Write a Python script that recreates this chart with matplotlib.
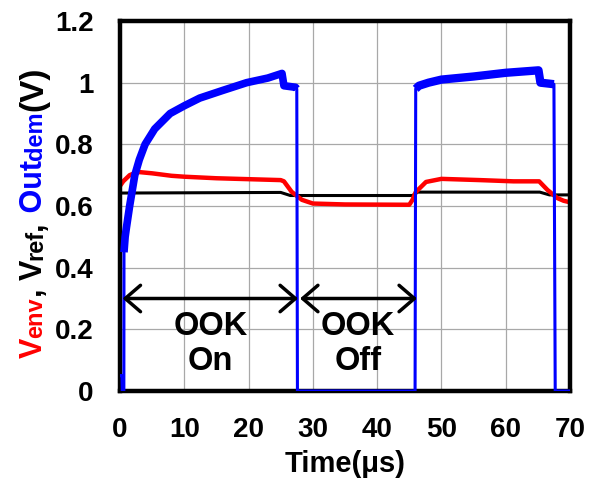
import matplotlib
matplotlib.use("Agg")
import matplotlib.pyplot as plt
from matplotlib.transforms import IdentityTransform

plt.rcParams["font.family"] = ["Liberation Sans", "DejaVu Sans"]
plt.rcParams["font.weight"] = "bold"

# Outdem trace (blue)
out_t = [0, 0.3, 0.35, 0.6, 0.62, 0.8, 1.0, 1.5, 2.3, 3.0, 3.9, 5.4, 7.8, 10, 12.4, 16,
         19.7, 23, 25.2, 25.5, 27.3, 27.5, 27.6, 45.9, 46.0, 46.5, 48, 50, 55, 60, 65.1,
         65.4, 67.5, 67.7, 70]
out_v = [0.05, 0.05, 0, 0, 0.45, 0.50, 0.53, 0.60, 0.70, 0.75, 0.80, 0.85, 0.90, 0.925,
         0.95, 0.975, 1.0, 1.015, 1.03, 0.99, 0.985, 0.98, 0, 0, 0.98, 0.99, 1.0, 1.01,
         1.02, 1.032, 1.04, 1.0, 0.995, 0, 0]

# Venv trace (red)
env_t = [0, 0.5, 1.5, 2.2, 3, 5, 8, 10, 15, 20, 25, 25.5, 26.7, 28.3, 30, 35, 45, 45.5,
         46, 47.6, 50, 56, 61.2, 65.2, 66.5, 68, 69, 70]
env_v = [0.665, 0.68, 0.70, 0.706, 0.71, 0.706, 0.698, 0.695, 0.69, 0.687, 0.684, 0.68,
         0.646, 0.62, 0.608, 0.605, 0.604, 0.62, 0.645, 0.678, 0.688, 0.684, 0.68, 0.68,
         0.652, 0.626, 0.617, 0.612]

# Vref trace (black)
ref_t = [0, 25, 26.5, 45.5, 46.3, 65.3, 66.8, 70]
ref_v = [0.642, 0.644, 0.634, 0.634, 0.645, 0.645, 0.636, 0.636]

xticks = [0, 10, 20, 30, 40, 50, 60, 70]
yticks = [0, 0.2, 0.4, 0.6, 0.8, 1.0, 1.2]
ytick_labels = ["0", "0.2", "0.4", "0.6", "0.8", "1", "1.2"]

fig = plt.figure(figsize=(5.97, 4.87), dpi=100)
ax = fig.add_axes([120 / 597, 1 - 391 / 487, 450 / 597, 370 / 487])

ax.plot(ref_t, ref_v, color="black", lw=2.2, zorder=3)
ax.plot(env_t, env_v, color="#ff0000", lw=3.2, zorder=4)
ax.plot(out_t, out_v, color="#0000ff", lw=2.2, zorder=5)
# ripple band on the pulse plateaus
ax.plot(out_t[4:22], out_v[4:22], color="#0000ff", lw=5.5, zorder=5, solid_capstyle="butt")
ax.plot(out_t[24:33], out_v[24:33], color="#0000ff", lw=6, zorder=5, solid_capstyle="butt")

ax.set_xlim(0, 70)
ax.set_ylim(0, 1.2)
ax.set_xticks(xticks)
ax.set_yticks(yticks)
ax.set_yticklabels(ytick_labels)
ax.tick_params(length=0, labelsize=20, pad=19)
ax.grid(True, color="#a8a8a8", lw=0.9)
ax.set_axisbelow(True)
for sp in ax.spines.values():
    sp.set_linewidth(3.2)
    sp.set_zorder(4.5)

ax.set_xlabel("Time(μs)", fontsize=21, fontweight="bold", labelpad=5)

arrow = dict(arrowstyle="<->,head_length=1.1,head_width=0.95", lw=2.5, color="black",
             shrinkA=0, shrinkB=0)
ax.annotate("", xy=(27.7, 0.3), xytext=(0.4, 0.3), arrowprops=arrow, zorder=6)
ax.annotate("", xy=(46.2, 0.3), xytext=(28.0, 0.3), arrowprops=arrow, zorder=6)

ax.text(14.1, 0.153, "OOK\nOn", ha="center", va="center", fontsize=23.5,
        fontweight="bold", linespacing=1.15, zorder=6)
ax.text(37.0, 0.153, "OOK\nOff", ha="center", va="center", fontsize=23.5,
        fontweight="bold", linespacing=1.15, zorder=6)

# multi-coloured y label, built piece by piece
fig.canvas.draw()
renderer = fig.canvas.get_renderer()
pieces = [("V", "#ff0000", 22), ("env", "#ff0000", 17), (", V", "black", 22),
          ("ref", "black", 17), (",", "black", 22), (" Out", "#0000ff", 22),
          ("dem", "#0000ff", 17), ("(V)", "black", 24)]
ypos = 487 - 358
for s, c, size in pieces:
    t = fig.text(42, ypos, s, rotation=90, rotation_mode="anchor", ha="left",
                 va="baseline", color=c, fontsize=size, fontweight="bold",
                 transform=IdentityTransform())
    ypos += t.get_window_extent(renderer).height

fig.savefig("out.png", dpi=100)
